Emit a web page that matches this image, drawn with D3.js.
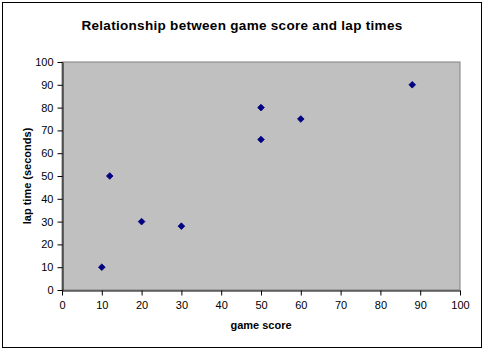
<!DOCTYPE html>
<html><head><meta charset="utf-8">
<script src="https://cdn.jsdelivr.net/npm/d3@7"></script>
<style>body{margin:0;background:#fff}svg{display:block}text{font-family:"Liberation Sans",Arial,sans-serif}</style>
</head><body>
<svg id="c" width="485" height="352"></svg>
<script>
const gameScore = [10, 12, 20, 30, 50, 50, 60, 88];
const lapTime = [10, 50, 30, 28, 80, 66, 75, 90];
const xTicks = [0,10,20,30,40,50,60,70,80,90,100];
const yTicks = [0,10,20,30,40,50,60,70,80,90,100];
const title = "Relationship between game score and lap times";
const xTitle = "game score";
const yTitle = "lap time (seconds)";

const svg = d3.select("#c");
svg.append("rect").attr("x",2.5).attr("y",2.5).attr("width",479).attr("height",345)
  .attr("fill","#fff").attr("stroke","#000").attr("stroke-width",1);

const L=62, R=460, T=62, B=290;
const x = d3.scaleLinear().domain([0,100]).range([L,R]);
const y = d3.scaleLinear().domain([0,100]).range([B,T]);

svg.append("rect").attr("x",L).attr("y",T).attr("width",R-L).attr("height",B-T)
  .attr("fill","#C0C0C0").attr("stroke","#808080").attr("stroke-width",1);

const gx = svg.append("g").attr("transform",`translate(0,${B+0.5})`)
  .call(d3.axisBottom(x).tickValues(xTicks).tickSize(5).tickPadding(6).tickSizeOuter(0));
const gy = svg.append("g").attr("transform",`translate(${L+0.5},0)`)
  .call(d3.axisLeft(y).tickValues(yTicks).tickSize(5).tickPadding(4).tickSizeOuter(0));
[gx,gy].forEach(g=>{
  g.selectAll("path,line").attr("stroke","#000");
  g.selectAll("text").attr("font-size",11).attr("fill","#000").style("font-family","'Liberation Sans',Arial,sans-serif");
});

const sym = d3.symbol().type(d3.symbolSquare).size(22);
svg.append("g").selectAll("path").data(gameScore).join("path")
  .attr("d",sym)
  .attr("transform",(d,i)=>`translate(${x(d)},${y(lapTime[i])}) rotate(45)`)
  .attr("fill","#000080").attr("stroke","#000080").attr("stroke-width",0.8);

svg.append("text").attr("x",242).attr("y",30).attr("text-anchor","middle")
  .attr("font-size",13.5).attr("font-weight","bold").attr("letter-spacing",0.3).text(title);
svg.append("text").attr("x",261).attr("y",329).attr("text-anchor","middle")
  .attr("font-size",11).attr("font-weight","bold").text(xTitle);
svg.append("text").attr("transform","translate(31,176) rotate(-90)").attr("text-anchor","middle")
  .attr("font-size",11).attr("font-weight","bold").text(yTitle);
</script>
</body></html>
